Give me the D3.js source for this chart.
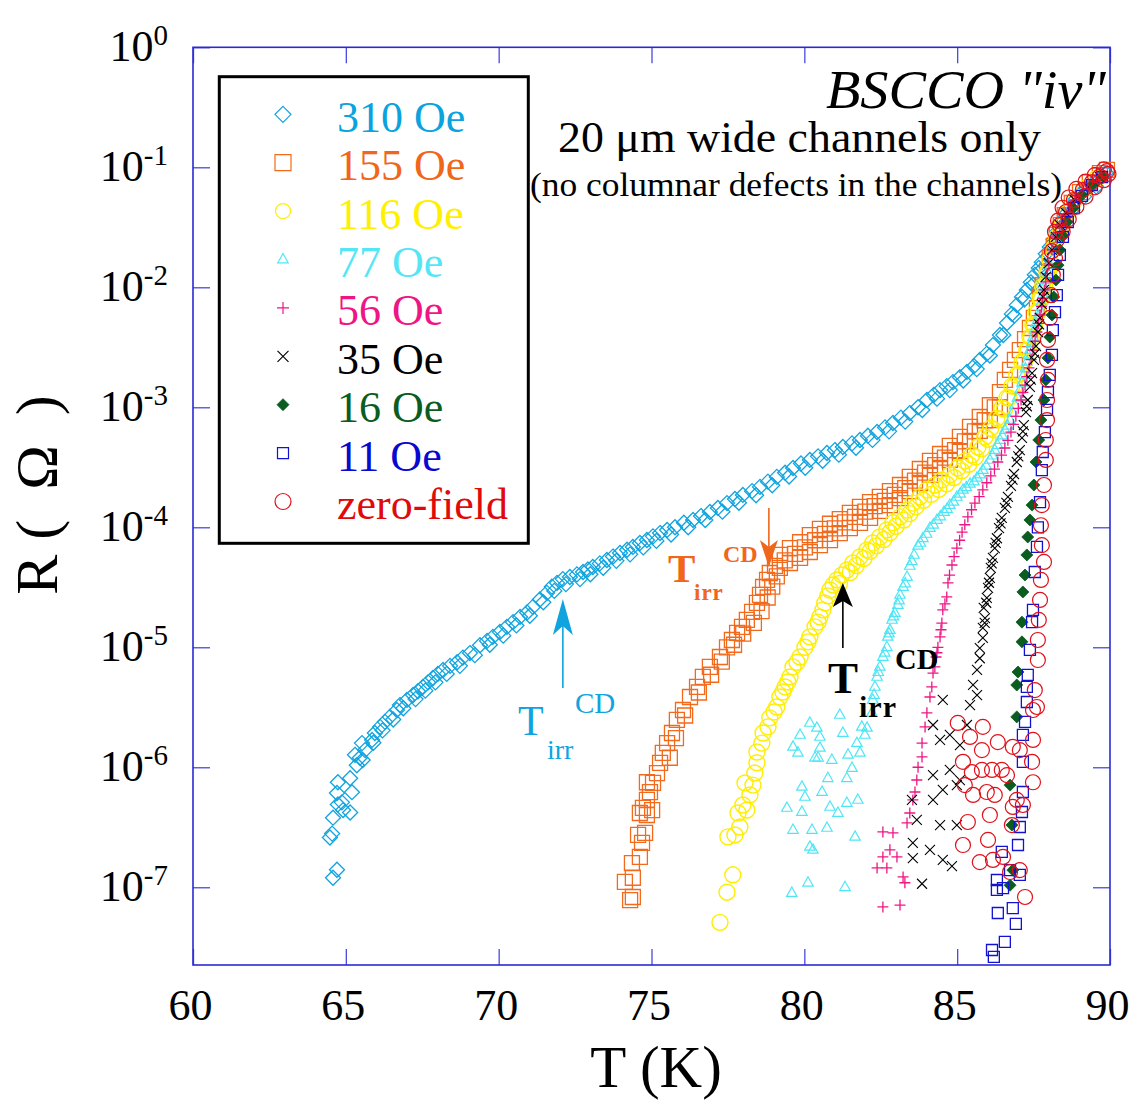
<!DOCTYPE html>
<html><head><meta charset="utf-8">
<script src="https://cdn.jsdelivr.net/npm/d3@7"></script>
<style>body{margin:0;background:#fff}</style>
</head><body>
<script>
// ---------- axis settings ----------
const xDomain = [60, 90];
const yDomain = [2.25e-8, 1];
const xTicks = [60, 65, 70, 75, 80, 85, 90];
const yTicks = [1, 1e-1, 1e-2, 1e-3, 1e-4, 1e-5, 1e-6, 1e-7];
const yTickExp = ["0", "-1", "-2", "-3", "-4", "-5", "-6", "-7"];
const seriesNames = ["310 Oe", "155 Oe", "116 Oe", "77 Oe", "56 Oe", "35 Oe", "16 Oe", "11 Oe", "zero-field"];

// ---------- data: [T (K), R (Ohm)] ----------
const s310 = [
[64.58,1.2e-7],[64.71,1.4e-7],[64.48,2.6e-7],[64.55,2.8e-7],[64.58,3.8e-7],[65.14,4.2e-7],[64.91,4.4e-7],[64.74,4.9e-7],[64.87,5.1e-7],[65.20,6.2e-7],[64.71,6.1e-7],[64.74,7.5e-7],[65.14,8.1e-7],
[65.36,1.04e-6],[65.46,1.2e-6],[65.30,1.27e-6],[65.63,1.39e-6],[65.53,1.59e-6],[65.86,1.69e-6],[65.95,1.93e-6],[66.12,2.17e-6],[66.28,2.39e-6],[66.44,2.63e-6],[66.67,3.0e-6],[66.77,3.3e-6],[67.0,3.64e-6],[67.2,4.0e-6],[67.36,4.3e-6],[67.52,4.67e-6],[67.69,5.1e-6],[67.85,5.55e-6],[68.01,6.0e-6],[68.18,6.47e-6],[68.41,7.0e-6],[68.64,7.5e-6],[68.83,8.2e-6],[69.06,8.95e-6],[69.39,1.04e-5],[69.62,1.13e-5],[69.81,1.22e-5],[70.04,1.34e-5],[70.27,1.48e-5],[70.47,1.62e-5],[70.70,1.79e-5],[70.93,1.95e-5],[71.12,2.17e-5],[71.35,2.5e-5],[71.58,2.84e-5],[71.74,3.2e-5],[71.91,3.44e-5],[72.10,3.7e-5],[72.33,3.85e-5],[72.56,4.05e-5],[72.76,4.24e-5],[72.92,4.45e-5],[73.08,4.67e-5],[73.31,5.0e-5],[73.54,5.34e-5],[73.74,5.7e-5],[73.97,6.1e-5],[74.20,6.5e-5],[74.39,6.86e-5],[74.62,7.4e-5],[74.85,7.83e-5],[75.05,8.4e-5],[75.28,8.95e-5],[75.51,9.5e-5],[75.77,1.0e-4],[76.06,1.09e-4],[76.36,1.15e-4],[76.62,1.24e-4],[76.91,1.34e-4],[77.17,1.45e-4],[77.47,1.59e-4],[77.73,1.72e-4],[77.99,1.86e-4],[78.29,2.0e-4],[78.55,2.17e-4],[78.81,2.4e-4],[79.10,2.63e-4],[79.37,2.85e-4],[79.63,3.12e-4],[79.89,3.4e-4],[80.18,3.64e-4],[80.45,3.9e-4],[80.74,4.16e-4],[81.0,4.4e-4],[81.26,4.67e-4],[81.56,5.0e-4],[81.82,5.34e-4],[82.08,5.8e-4],[82.38,6.22e-4],[82.64,6.8e-4],[82.90,7.4e-4],[83.16,8.2e-4],[83.45,8.95e-4],[83.72,1.0e-3],[84.01,1.15e-3],[84.24,1.27e-3],[84.44,1.39e-3],[84.66,1.5e-3],[84.86,1.62e-3],[85.09,1.78e-3],[85.32,1.97e-3],[85.55,2.2e-3],[85.74,2.48e-3],[85.97,2.8e-3],[86.17,3.3e-3],[86.40,4.0e-3],[86.63,5.04e-3],[86.79,6.0e-3],[86.95,7.1e-3],[87.12,8.3e-3],[87.28,9.5e-3],[87.41,1.1e-2],[87.54,1.27e-2],[87.67,1.45e-2],[87.77,1.62e-2],[87.90,1.9e-2],[88.03,2.17e-2],[88.16,2.5e-2],[88.26,2.89e-2],[88.39,3.4e-2],[88.52,4.0e-2],[88.69,4.6e-2],[88.85,5.34e-2],[89.05,6.1e-2],[89.24,6.7e-2],[89.44,7.4e-2],[89.67,8.1e-2],[89.87,9.0e-2],
[65.55,1.15e-6],[65.9,1.6e-6],[66.2,2.03e-6],[66.55,2.5e-6],[66.88,3.1e-6],[67.28,3.7e-6],[67.6,4.35e-6],[67.93,5.1e-6],[68.3,6.0e-6],[68.73,7.0e-6],[69.22,8.6e-6],[69.71,1.05e-5],[70.15,1.25e-5],[70.58,1.52e-5],[71.02,1.83e-5],[71.46,2.37e-5],[71.82,2.95e-5],[72.2,3.36e-5],[72.66,3.7e-5],[73.0,4.06e-5],[73.42,4.6e-5],[73.85,5.25e-5],[74.3,5.95e-5],[74.73,6.8e-5],[75.16,7.7e-5],[75.64,8.7e-5],[76.2,1.0e-4],[76.76,1.15e-4],[77.32,1.35e-4],[77.86,1.6e-4],[78.42,1.85e-4],[78.95,2.24e-4],[79.5,2.65e-4],[80.03,3.13e-4],[80.6,3.58e-4],[81.13,4.03e-4],[81.69,4.6e-4],[82.23,5.35e-4],[82.77,6.3e-4],[83.3,7.6e-4],[83.86,9.5e-4],[84.34,1.18e-3],[84.76,1.39e-3],[85.2,1.67e-3],[85.64,2.08e-3],[86.07,2.7e-3],[86.51,4.0e-3],[86.87,5.8e-3],[87.2,7.9e-3],[87.48,1.05e-2],[87.72,1.36e-2],[87.96,1.8e-2],[88.21,2.4e-2],[88.46,3.3e-2],[88.77,4.4e-2],[89.15,5.7e-2],[89.55,6.9e-2]
];
const s155 = [
[74.13,1.11e-7],[74.30,7.8e-8],[74.39,8.3e-8],[74.39,1.2e-7],[74.36,1.59e-7],[74.62,1.79e-7],[74.69,2.34e-7],[74.56,2.73e-7],[74.79,2.84e-7],[74.85,4.0e-7],[74.62,4.16e-7],[74.72,4.58e-7],[75.02,4.4e-7],[74.85,5.34e-7],[74.95,6.2e-7],[74.85,7.5e-7],[75.05,7.4e-7],[75.18,8.95e-7],[75.28,1.09e-6],[75.37,1.32e-6],[75.51,1.59e-6],[75.67,1.93e-6],[75.83,2.48e-6],[76.03,3.0e-6],[76.26,3.85e-6],[76.49,4.67e-6],[76.68,5.66e-6],[76.91,6.86e-6],[77.24,8.3e-6],[77.47,1.0e-5],[77.63,1.15e-5],[77.80,1.32e-5],[77.96,1.48e-5],[78.12,1.69e-5],[78.29,1.97e-5],[78.45,2.34e-5],[78.55,2.73e-5],[78.65,3.18e-5],[78.78,3.64e-5],[78.87,4.16e-5],[79.04,4.76e-5],
[75.6,1.2e-6],[75.8,1.75e-6],[76.1,2.7e-6],[76.55,4.2e-6],[76.95,5.9e-6],[77.3,7.6e-6],[77.7,1.05e-5],[78.0,1.3e-5],[78.35,1.6e-5],[78.6,2.0e-5],[78.8,2.6e-5],[78.95,3.2e-5],[79.1,3.9e-5],
[79.20,5.88e-5],[79.20,4.58e-5],[79.53,6.7e-5],[79.53,5.04e-5],[79.86,7.5e-5],[79.86,5.55e-5],[80.18,8.6e-5],[80.18,6.22e-5],[80.51,9.7e-5],[80.51,7.1e-5],[80.84,1.07e-4],[80.84,7.83e-5],[81.16,1.17e-4],[81.16,8.95e-5],[81.49,1.32e-4],[81.49,9.85e-5],[81.82,1.48e-4],[81.82,1.09e-4],[82.15,1.62e-4],[82.15,1.2e-4],[82.47,1.79e-4],[82.47,1.37e-4],[82.80,2.0e-4],[82.80,1.53e-4],[83.13,2.25e-4],[83.13,1.75e-4],[83.45,2.63e-4],[83.45,2.0e-4],[83.78,3.06e-4],[83.78,2.34e-4],[84.11,3.57e-4],[84.11,2.73e-4],[84.44,4.08e-4],[84.44,3.12e-4],[84.76,4.76e-4],[84.76,3.64e-4],[85.09,5.66e-4],[85.09,4.32e-4],[85.42,6.86e-4],[85.42,5.24e-4],[85.74,8.3e-4],[85.74,6.35e-4],[86.07,1.04e-3],[86.07,7.83e-4],[86.40,1.34e-3],[86.40,1.0e-3],
[79.36,5.3e-5],[79.7,6.0e-5],[80.02,6.8e-5],[80.35,7.8e-5],[80.68,8.8e-5],[81.0,9.8e-5],[81.33,1.1e-4],[81.66,1.22e-4],[82.0,1.35e-4],[82.3,1.5e-4],[82.63,1.66e-4],[82.96,1.86e-4],[83.3,2.12e-4],[83.62,2.45e-4],[83.95,2.85e-4],[84.28,3.3e-4],[84.6,3.8e-4],[84.93,4.4e-4],[85.25,5.2e-4],[85.58,6.3e-4],[85.9,7.8e-4],[86.23,1.0e-3],
[86.56,1.69e-3],[86.73,2.05e-3],[86.89,2.48e-3],[87.05,3.0e-3],[87.22,3.7e-3],[87.38,4.58e-3],[87.51,5.55e-3],[87.61,6.7e-3],[87.71,8.3e-3],[87.80,1.04e-2],[87.94,1.37e-2],[88.03,1.75e-2],[88.16,2.21e-2],[88.26,2.73e-2],[88.39,3.3e-2],[88.52,4.0e-2],[88.75,5.04e-2],[89.02,6.22e-2],[89.34,7.5e-2],[89.67,8.95e-2],[89.90,9.5e-2]
];
const s116 = [
[77.24,5.1e-8],[77.47,9.1e-8],[77.66,1.27e-7],[77.50,2.63e-7],[77.73,2.73e-7],[77.89,3.18e-7],[77.83,4.16e-7],[78.12,4.4e-7],[77.99,4.85e-7],[78.22,5.88e-7],[78.06,7.4e-7],[78.32,7.1e-7],[78.38,8.95e-7],[78.45,1.09e-6],[78.45,1.34e-6],[78.61,1.59e-6],[78.65,1.93e-6],[78.81,2.17e-6],[78.87,2.58e-6],[79.01,2.89e-6],[79.10,3.18e-6],[79.20,3.85e-6],[79.30,4.24e-6],[79.37,4.67e-6],[79.46,5.14e-6],[79.53,5.66e-6],[79.63,6.86e-6],[79.76,7.5e-6],[79.86,8.3e-6],[80.02,1.0e-5],[80.12,1.11e-5],[80.18,1.22e-5],[80.35,1.48e-5],[80.45,1.62e-5],[80.51,1.79e-5],[80.61,2.05e-5],[80.67,2.34e-5],[80.77,2.68e-5],[80.84,3.0e-5],[80.94,3.3e-5],[81.07,3.64e-5],[81.23,4.0e-5],[81.39,4.4e-5],[81.59,5.04e-5],[81.82,5.66e-5],[82.05,6.47e-5],[82.24,7.4e-5],[82.47,8.3e-5],[82.70,9.5e-5],[82.90,1.09e-4],[83.13,1.22e-4],[83.36,1.39e-4],[83.55,1.59e-4],[83.78,1.79e-4],[84.01,2.05e-4],[84.27,2.25e-4],[84.50,2.48e-4],[84.76,2.73e-4],[85.02,3.12e-4],[85.25,3.57e-4],[85.48,4.0e-4],[85.68,4.67e-4],[85.91,5.66e-4],[86.10,6.7e-4],[86.30,8.1e-4],[86.46,9.85e-4],[86.63,1.2e-3],[86.79,1.5e-3],[86.95,1.86e-3],[87.12,2.39e-3],[87.28,3.0e-3],[87.38,3.85e-3],[87.48,4.85e-3],[87.58,6.22e-3],[87.71,8.1e-3],[87.80,1.02e-2],[87.94,1.32e-2],[88.03,1.69e-2],[88.16,2.13e-2],[88.26,2.63e-2],[88.43,3.3e-2],[88.59,4.16e-2],[88.85,5.34e-2],[89.18,6.7e-2],[89.57,8.1e-2],
[81.15,3.4e-5],[81.5,4.2e-5],[81.7,4.8e-5],[81.95,5.5e-5],[82.15,6.3e-5],[82.35,7.0e-5],[82.6,7.9e-5],[82.8,9.0e-5],[83.0,1.02e-4],[83.25,1.15e-4],[83.45,1.3e-4],[83.65,1.48e-4],[83.9,1.68e-4],[84.15,1.88e-4],[84.4,2.07e-4],[84.65,2.3e-4],[84.9,2.6e-4],[85.15,2.95e-4],[85.38,3.35e-4],[85.6,3.85e-4],[85.8,4.5e-4],[86.0,5.4e-4],[86.2,6.5e-4],[86.4,7.9e-4],[86.55,9.6e-4],[86.7,1.2e-3],[86.88,1.5e-3],[87.05,1.9e-3],[87.2,2.4e-3],[87.33,3.0e-3],[87.43,3.8e-3],[87.53,4.8e-3],[87.65,6.2e-3],[87.76,8.0e-3],[87.87,1.02e-2],[88.0,1.35e-2]
];
const s77 = [
[79.59,8.95e-8],[80.12,1.09e-7],[81.33,1.0e-7],[80.18,2.17e-7],[80.28,2.05e-7],[79.63,3.0e-7],[80.25,3.0e-7],[80.74,3.12e-7],[81.66,2.63e-7],[79.43,4.58e-7],[79.92,4.24e-7],[80.84,4.67e-7],[81.10,4.16e-7],[81.39,5.04e-7],[81.75,5.34e-7],[79.92,6.86e-7],[80.02,5.66e-7],[80.58,6.22e-7],[80.77,8.1e-7],[81.39,8.1e-7],[81.56,9.85e-7],[79.63,1.48e-6],[79.79,1.32e-6],[80.35,1.2e-6],[80.45,1.2e-6],[80.90,1.15e-6],[81.43,1.27e-6],[81.82,1.32e-6],[80.51,1.45e-6],[80.51,1.79e-6],[79.86,1.86e-6],[80.18,2.34e-6],[80.41,2.13e-6],[81.16,2.73e-6],[81.26,1.93e-6],[81.72,1.59e-6],[81.88,2.17e-6],[81.98,1.86e-6],[82.05,2.13e-6],
[82.21,2.84e-6],[82.24,3.64e-6],[82.31,4.67e-6],[82.38,5.66e-6],[82.47,6.86e-6],[82.57,8.3e-6],[82.70,1.0e-5],[82.73,1.22e-5],[82.80,1.39e-5],[82.87,1.69e-5],[82.96,1.93e-5],[83.06,2.25e-5],[83.13,2.73e-5],[83.23,3.18e-5],[83.36,3.85e-5],[83.45,4.76e-5],[83.59,5.88e-5],[83.72,7.0e-5],[83.88,8.1e-5],[84.11,9.85e-5],[84.34,1.15e-4],[84.57,1.34e-4],[84.76,1.53e-4],[84.99,1.79e-4],[85.19,2.05e-4],[85.42,2.3e-4],[85.65,2.58e-4],[85.84,3.0e-4],[86.07,3.64e-4],[86.23,4.4e-4],[86.40,5.34e-4],[86.56,6.47e-4],[86.73,7.83e-4],[86.89,1.04e-3],[87.05,1.39e-3],[87.18,1.86e-3],[87.28,2.39e-3],[87.38,3.0e-3],[87.48,3.85e-3],[87.58,5.04e-3],[87.71,6.47e-3],[87.80,8.6e-3],[87.90,1.15e-2],[88.03,1.53e-2],[88.13,2.05e-2],[88.26,2.58e-2],[88.43,3.3e-2],[88.62,4.24e-2],[88.95,5.55e-2],[89.34,7.1e-2],
[82.28,4.0e-6],[82.42,6.2e-6],[82.63,9.0e-6],[82.77,1.3e-5],[82.92,1.8e-5],[83.1,2.45e-5],[83.3,3.4e-5],[83.52,5.2e-5],[83.8,7.4e-5],[84.0,8.8e-5],[84.22,1.05e-4],[84.45,1.23e-4],[84.67,1.42e-4],[84.88,1.63e-4],[85.1,1.9e-4],[85.3,2.15e-4],[85.55,2.4e-4],[85.75,2.75e-4],[85.95,3.25e-4],[86.15,3.95e-4],[86.32,4.85e-4],[86.48,5.8e-4],[86.65,7.0e-4],[86.82,9.0e-4],[86.97,1.2e-3],[87.12,1.6e-3],[87.23,2.1e-3],[87.33,2.7e-3],[87.43,3.4e-3],[87.53,4.4e-3],[87.65,5.7e-3],[87.75,7.5e-3],[87.85,1.0e-2],[87.97,1.33e-2]
];
const s56 = [
[82.57,6.86e-8],[83.13,7.1e-8],[82.38,1.45e-7],[82.70,1.45e-7],[83.23,1.22e-7],[83.29,1.09e-7],[82.57,1.79e-7],[83.03,1.79e-7],[82.80,2.05e-7],[82.57,2.89e-7],[82.90,2.84e-7],[83.36,3.44e-7],[83.45,4.16e-7],[83.55,5.34e-7],[83.62,6.22e-7],[83.68,7.83e-7],[83.72,1.0e-6],[83.85,1.22e-6],[83.85,1.59e-6],[83.95,2.17e-6],[84.01,2.84e-6],[84.11,3.85e-6],[84.17,4.67e-6],[84.21,6.1e-6],[84.27,6.86e-6],[84.31,8.3e-6],[84.37,1.0e-5],[84.44,1.22e-5],[84.50,1.59e-5],[84.53,2.05e-5],[84.66,2.63e-5],[84.70,3.44e-5],[84.83,4.85e-5],[84.99,6.7e-5],[85.16,9.1e-5],[85.35,1.22e-4],[85.58,1.59e-4],[85.84,2.05e-4],[86.10,2.68e-4],[86.33,3.5e-4],[86.56,4.58e-4],[86.76,6.22e-4],[86.92,8.4e-4],[87.09,1.15e-3],[87.22,1.53e-3],[87.35,2.13e-3],[87.48,3.0e-3],[87.61,4.24e-3],[87.71,5.88e-3],[87.80,8.1e-3],[87.90,1.11e-2],[88.0,1.53e-2],[88.10,2.05e-2],[88.23,2.63e-2],[88.36,3.24e-2],[88.56,4.08e-2],[88.85,5.34e-2],[89.28,7.0e-2],[89.67,8.4e-2],
[84.34,9.0e-6],[84.47,1.4e-5],[84.6,2.3e-5],[84.75,4.0e-5],[84.9,5.7e-5],[85.08,7.8e-5],[85.25,1.05e-4],[85.47,1.4e-4],[85.72,1.8e-4],[85.97,2.35e-4],[86.22,3.05e-4],[86.45,4.0e-4],[86.66,5.3e-4],[86.84,7.2e-4],[87.0,9.8e-4],[87.15,1.33e-3],[87.28,1.8e-3],[87.42,2.5e-3],[87.55,3.55e-3],[87.66,5.0e-3],[87.76,6.9e-3],[87.85,9.5e-3],[87.95,1.3e-2]
];
const s35 = [
[83.85,1.07e-7],[83.55,1.75e-7],[84.11,2.05e-7],[84.53,1.69e-7],[84.83,1.5e-7],[83.55,2.34e-7],[83.68,3.64e-7],[83.52,5.34e-7],[84.44,3.3e-7],[84.99,3.3e-7],[84.21,5.34e-7],[84.53,6.47e-7],[84.99,7.1e-7],[84.21,8.6e-7],[84.76,9.5e-7],[85.09,7.83e-7],[84.44,1.69e-6],[84.21,2.25e-6],[84.76,1.86e-6],[85.09,1.53e-6],[84.53,3.64e-6],[85.32,2.25e-6],[85.42,3.3e-6],[85.65,4.0e-6],[85.52,4.85e-6],[85.65,6.47e-6],[85.74,8.1e-6],[85.74,9.85e-6],[85.84,1.2e-5],[85.84,1.45e-5],[85.91,1.75e-5],[85.87,2.13e-5],[85.97,2.58e-5],[86.01,3.12e-5],[86.07,3.78e-5],[86.10,4.58e-5],[86.17,5.55e-5],[86.23,6.7e-5],[86.30,8.1e-5],[86.37,9.85e-5],[86.46,1.2e-4],[86.56,1.45e-4],[86.66,1.79e-4],[86.76,2.21e-4],[86.86,2.78e-4],[86.95,3.5e-4],[87.05,4.4e-4],[87.12,5.55e-4],[87.18,7.1e-4],[87.25,9.1e-4],[87.31,1.15e-3],[87.38,1.48e-3],[87.45,1.93e-3],[87.51,2.48e-3],[87.58,3.24e-3],[87.64,4.24e-3],[87.71,5.55e-3],[87.77,7.25e-3],[87.84,9.5e-3],[87.90,1.22e-2],[88.0,1.59e-2],[88.10,2.05e-2],[88.23,2.63e-2],[88.36,3.3e-2],[88.56,4.16e-2],[88.85,5.34e-2],[89.28,6.86e-2],[89.67,8.3e-2],
[85.9,1.6e-5],[85.95,2.35e-5],[86.04,3.45e-5],[86.13,5.0e-5],[86.26,7.4e-5],[86.42,1.08e-4],[86.61,1.6e-4],[86.81,2.5e-4],[87.0,3.9e-4],[87.15,6.3e-4],[87.28,1.02e-3],[87.41,1.7e-3],[87.55,2.8e-3],[87.68,4.9e-3],[87.81,8.3e-3]
];
const s16 = [
[86.73,1.04e-7],[86.82,1.39e-7],[86.79,3.3e-7],[86.73,7.1e-7],[86.95,2.63e-6],[86.95,4.85e-6],[86.99,6.22e-6],[87.12,1.11e-5],[87.12,1.62e-5],[87.15,2.89e-5],[87.22,4.0e-5],[87.28,5.88e-5],[87.31,8.3e-5],[87.38,1.15e-4],[87.45,1.53e-4],[87.51,2.25e-4],[87.58,3.5e-4],[87.67,5.34e-4],[87.74,7.83e-4],[87.84,1.15e-3],[87.90,1.69e-3],[87.97,2.58e-3],[88.03,3.85e-3],[88.10,5.88e-3],[88.16,8.3e-3],[88.23,1.15e-2],[88.30,1.53e-2],[88.36,2.05e-2],[88.46,2.68e-2],[88.59,3.5e-2],[88.79,4.58e-2],[89.08,5.88e-2],[89.44,7.25e-2],[89.77,8.4e-2]
];
const s11 = [
[86.14,3.0e-8],[86.20,2.63e-8],[86.56,3.5e-8],[86.33,6.1e-8],[86.82,6.7e-8],[86.92,4.95e-8],[86.30,9.5e-8],[86.30,1.15e-7],[86.50,9.85e-8],[86.73,1.39e-7],[87.05,1.27e-7],[86.46,1.97e-7],[86.99,2.25e-7],[87.05,3.18e-7],[87.12,4.24e-7],[87.15,6.22e-7],[87.15,1.11e-6],[87.15,1.86e-6],[87.22,2.39e-6],[87.28,3.5e-6],[87.28,4.67e-6],[87.31,5.88e-6],[87.38,9.5e-6],[87.45,1.62e-5],[87.48,2.05e-5],[87.54,4.24e-5],[87.61,6.86e-5],[87.64,1.0e-4],[87.71,1.62e-4],[87.77,3.0e-4],[87.80,4.24e-4],[87.87,6.22e-4],[87.94,9.5e-4],[87.97,1.34e-3],[88.03,1.86e-3],[88.10,2.73e-3],[88.13,4.4e-3],[88.20,6.22e-3],[88.26,8.6e-3],[88.30,1.27e-2],[88.36,1.86e-2],[88.46,2.63e-2],[88.62,3.5e-2],[88.82,4.58e-2],[89.08,5.77e-2],[89.41,7.1e-2],[89.74,8.3e-2]
];
const s0 = [
[87.22,8.3e-8],[86.73,1.34e-7],[87.05,1.39e-7],[86.17,1.69e-7],[85.74,1.62e-7],[86.50,1.79e-7],[85.19,2.25e-7],[86.01,2.48e-7],[86.79,3.3e-7],[85.35,3.5e-7],[86.07,4.0e-7],[85.52,5.88e-7],[85.97,6.22e-7],[86.23,5.88e-7],[85.25,7.1e-7],[86.82,4.67e-7],[87.15,4.85e-7],[86.95,5.34e-7],[86.46,9.5e-7],[86.63,8.6e-7],[86.14,9.5e-7],[85.81,9.5e-7],[85.19,1.11e-6],[85.48,9.1e-7],[85.81,1.39e-6],[86.33,1.62e-6],[86.82,1.48e-6],[87.05,1.39e-6],[85.84,2.17e-6],[85.02,2.34e-6],[85.42,1.79e-6],
[87.48,7.5e-7],[87.45,1.11e-6],[87.48,1.69e-6],[87.48,3.0e-6],[87.61,3.18e-6],[87.54,4.4e-6],[87.64,7.83e-6],[87.64,1.15e-5],[87.67,1.69e-5],[87.71,2.48e-5],[87.74,3.64e-5],[87.84,5.14e-5],[87.77,7.1e-5],[87.74,1.04e-4],[87.77,1.53e-4],[87.84,2.25e-4],[87.90,3.64e-4],[87.90,5.34e-4],[87.94,7.83e-4],[87.94,1.15e-3],[87.97,1.69e-3],[87.94,2.48e-3],[87.97,3.64e-3],[88.03,5.55e-3],[88.07,8.6e-3],[88.13,1.27e-2],[88.20,1.75e-2],[88.26,2.48e-2],[88.36,3.3e-2],[88.56,4.24e-2],[88.82,5.34e-2],[89.11,6.47e-2],[89.41,7.5e-2],[89.67,8.4e-2],[89.90,9.3e-2],
[88.1,2.0e-2],[88.2,2.9e-2],[88.3,3.6e-2],[88.45,4.6e-2],[88.65,5.6e-2],[88.9,6.6e-2],[89.2,7.6e-2],[89.5,8.6e-2],[89.8,9.6e-2],
[88.45,2.9e-2],[88.65,3.7e-2],[88.9,4.7e-2],[89.2,5.7e-2],[89.5,6.8e-2],[89.8,7.8e-2],[89.95,8.8e-2]
];
const seriesData = [s310, s155, s116, s77, s56, s35, s16, s11, s0];

// ---------- styles (kept apart from data) ----------
const FONT = "'Liberation Serif','Times New Roman',Times,serif";
const styles = [
  {shape:"diamond", size:7.5, stroke:"#10a4df", fill:"none", sw:1.3, text:"#0aa3de", lsize:8},
  {shape:"square",  size:7.5, stroke:"#f26a1c", fill:"none", sw:1.3, text:"#f0661a", lsize:8},
  {shape:"circle",  size:8,   stroke:"#ffee00", fill:"none", sw:1.4, text:"#fff000", lsize:7.5},
  {shape:"triangle",size:6,   stroke:"#4ee6f6", fill:"none", sw:1.2, text:"#55e6f6", lsize:6},
  {shape:"plus",    size:5.5, stroke:"#ee1585", fill:"none", sw:1.3, text:"#ee1585", lsize:6},
  {shape:"cross",   size:5,   stroke:"#000000", fill:"none", sw:1.1, text:"#000000", lsize:5.5},
  {shape:"diamond", size:6,   stroke:"#0b5c1f", fill:"#0b5c1f", sw:0.8, text:"#0b5c1f", lsize:6},
  {shape:"square",  size:5.5, stroke:"#1212d2", fill:"none", sw:1.3, text:"#0808d0", lsize:5.5},
  {shape:"circle",  size:7.5, stroke:"#e0101a", fill:"none", sw:1.2, text:"#e00a0a", lsize:8}
];

function shapePath(type, s) {
  switch (type) {
    case "diamond": return `M0,${-s}L${s},0L0,${s}L${-s},0Z`;
    case "square": return `M${-s},${-s}H${s}V${s}H${-s}Z`;
    case "circle": return `M${s},0A${s},${s} 0 1,1 ${-s},0A${s},${s} 0 1,1 ${s},0Z`;
    case "triangle": return `M0,${-s}L${s*0.87},${s*0.55}L${-s*0.87},${s*0.55}Z`;
    case "plus": return `M${-s},0H${s}M0,${-s}V${s}`;
    case "cross": return `M${-s},${-s}L${s},${s}M${s},${-s}L${-s},${s}`;
  }
}

// ---------- chart ----------
const svg = d3.select("body").append("svg").attr("width", 1134).attr("height", 1104)
  .style("background", "#fff").attr("font-family", FONT);
const M = {l: 193, r: 1110, t: 47.3, b: 965};
const x = d3.scaleLinear().domain(xDomain).range([M.l, M.r]);
const y = d3.scaleLog().domain(yDomain).range([M.b, M.t]);
const tickCol = "#4a4ade", frameCol = "#2a2ad4";

function styleAx(g) {
  g.select(".domain").remove();
  g.selectAll(".tick line").attr("stroke", tickCol).attr("stroke-width", 1.3);
}
svg.append("g").attr("transform", `translate(0,${M.b})`)
  .call(d3.axisBottom(x).tickValues(xTicks).tickSize(-16).tickPadding(24).tickFormat(d => d))
  .call(styleAx)
  .call(g => { g.attr("font-family", FONT).attr("font-size", 44);
               g.selectAll("text").attr("fill", "#000").attr("dx", -3); });
svg.append("g").attr("transform", `translate(0,${M.t})`)
  .call(d3.axisTop(x).tickValues(xTicks).tickSize(-16).tickFormat(() => "")).call(styleAx);
svg.append("g").attr("transform", `translate(${M.l},0)`)
  .call(d3.axisLeft(y).tickValues(yTicks).tickSize(-17).tickFormat(() => "")).call(styleAx);
svg.append("g").attr("transform", `translate(${M.r},0)`)
  .call(d3.axisRight(y).tickValues(yTicks).tickSize(-17).tickFormat(() => "")).call(styleAx);

// y tick labels 10^n
const yl = svg.append("g");
yTicks.forEach((v, i) => {
  const t = yl.append("text").attr("x", 168).attr("y", y(v) + 13.4)
    .attr("text-anchor", "end").attr("font-size", 44).attr("fill", "#000");
  t.append("tspan").text("10");
  t.append("tspan").attr("dy", -16).attr("font-size", 29).text(yTickExp[i]);
});

// frame
svg.append("rect").attr("x", M.l).attr("y", M.t).attr("width", M.r - M.l).attr("height", M.b - M.t)
  .attr("fill", "none").attr("stroke", frameCol).attr("stroke-width", 1.6);

// axis titles
svg.append("text").attr("x", 656).attr("y", 1087).attr("text-anchor", "middle")
  .attr("font-size", 59).text("T (K)");
svg.append("text").attr("transform", "translate(57,495) rotate(-90)").attr("text-anchor", "middle")
  .attr("font-size", 60).style("white-space", "pre").text("R (  Ω  )");

// data
seriesData.forEach((data, i) => {
  const st = styles[i];
  svg.append("g").selectAll("path").data(data).join("path")
    .attr("transform", d => `translate(${x(d[0])},${y(d[1])})`)
    .attr("d", shapePath(st.shape, st.size))
    .attr("fill", st.fill).attr("stroke", st.stroke).attr("stroke-width", st.sw);
});

// legend
const lg = svg.append("g");
lg.append("rect").attr("x", 219.3).attr("y", 76.7).attr("width", 309).attr("height", 466.6)
  .attr("fill", "#fff").attr("stroke", "#000").attr("stroke-width", 3);
seriesNames.forEach((name, i) => {
  const st = styles[i];
  const cy = 114.3 + i * 48.4;
  lg.append("path").attr("transform", `translate(283,${cy})`).attr("d", shapePath(st.shape, st.lsize))
    .attr("fill", st.fill).attr("stroke", st.stroke).attr("stroke-width", Math.min(st.sw, 1.2));
  lg.append("text").attr("x", 337).attr("y", cy + 17.4).attr("font-size", 44).attr("fill", st.text).text(name);
});

// titles
svg.append("text").attr("x", 1106).attr("y", 108).attr("text-anchor", "end").attr("font-size", 55)
  .attr("font-style", "italic").attr("textLength", 280).attr("lengthAdjust", "spacingAndGlyphs").text('BSCCO "iv"');
svg.append("text").attr("x", 558).attr("y", 152).attr("font-size", 44)
  .attr("textLength", 483).attr("lengthAdjust", "spacingAndGlyphs").text("20 μm wide channels only");
svg.append("text").attr("x", 530).attr("y", 196).attr("font-size", 34)
  .attr("textLength", 532).attr("lengthAdjust", "spacingAndGlyphs").text("(no columnar defects in the channels)");

// annotations
function arrow(T, Rtail, Rtip, col, hl, hw, notch) {
  const ax = x(T), yt = y(Rtail), yp = y(Rtip);
  const dir = yp < yt ? 1 : -1; // 1 = pointing up
  svg.append("line").attr("x1", ax).attr("x2", ax).attr("y1", yt).attr("y2", yp + dir * notch)
    .attr("stroke", col).attr("stroke-width", 1.6);
  svg.append("path").attr("d",
    `M${ax},${yp}L${ax + hw},${yp + dir * hl}L${ax},${yp + dir * notch}L${ax - hw},${yp + dir * hl}Z`)
    .attr("fill", col);
}
arrow(72.10, 4.58e-6, 2.53e-5, "#10a4df", 36, 10, 27);
arrow(78.84, 1.45e-4, 4.67e-5, "#f0661a", 27, 9, 20);
arrow(81.26, 9.87e-6, 3.44e-5, "#000000", 24, 10, 18);

function label(xT, yT, fsT, xs, ys, fss, xsup, ysup, fsup, col, bold) {
  const g = svg.append("g").attr("fill", col).attr("font-weight", bold ? "bold" : "normal");
  g.append("text").attr("x", xT).attr("y", yT).attr("font-size", fsT).text("T");
  g.append("text").attr("x", xs).attr("y", ys).attr("font-size", fss)
    .attr("letter-spacing", bold ? 1 : 0).text("irr");
  g.append("text").attr("x", xsup).attr("y", ysup).attr("font-size", fsup).text("CD");
}
label(518, 735, 42, 547, 759, 28, 575, 713, 29, "#10a4df", false);
label(668, 582, 41, 694, 600, 23, 723, 562, 24, "#f0661a", true);
label(828, 693, 45, 859, 717, 30, 895, 669, 30, "#000000", true);
</script>
</body></html>
